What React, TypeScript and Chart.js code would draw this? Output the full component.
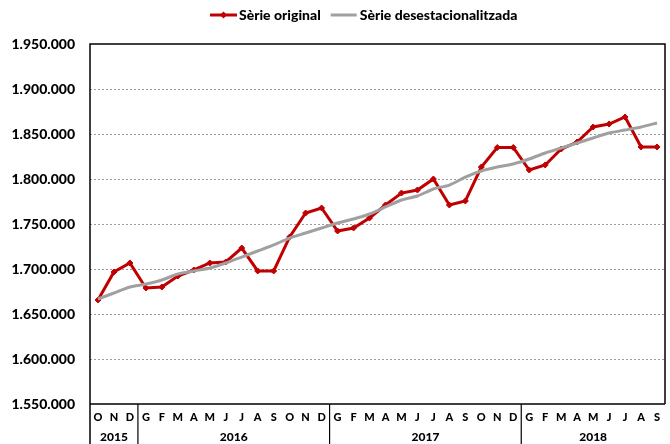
import React, { useEffect, useRef } from "react";
import { Chart, registerables } from "chart.js";

Chart.register(...registerables);

const months = [
  "O", "N", "D",
  "G", "F", "M", "A", "M", "J", "J", "A", "S", "O", "N", "D",
  "G", "F", "M", "A", "M", "J", "J", "A", "S", "O", "N", "D",
  "G", "F", "M", "A", "M", "J", "J", "A", "S",
];
const years = ["2015", "2016", "2017", "2018"];
const monthsPerYear = [3, 12, 12, 9];

const serieOriginal = [
  1665600, 1696700, 1706700,
  1678900, 1680000, 1692200, 1698900, 1706700, 1707800, 1723300, 1697800, 1697800, 1735600, 1762200, 1767800,
  1742200, 1745600, 1756700, 1771100, 1784400, 1787800, 1800000, 1771100, 1775600, 1813300, 1835000, 1835000,
  1810000, 1815600, 1833300, 1841100, 1857800, 1861100, 1868900, 1835600, 1835600,
];
const serieDesestacionalitzada = [
  1666700, 1673300, 1680000,
  1683300, 1687800, 1694400, 1697800, 1701100, 1706700, 1713300, 1720000, 1726700, 1734400, 1740000, 1745600,
  1751100, 1755600, 1761100, 1768900, 1776700, 1781100, 1788900, 1793300, 1802200, 1808900, 1813300, 1816700,
  1822200, 1828900, 1834400, 1840000, 1845600, 1851100, 1854400, 1857800, 1862200,
];
const seriesNames = ["Sèrie original", "Sèrie desestacionalitzada"];
const yMin = 1550000;
const yMax = 1950000;
const yStep = 50000;

const RED = "#C00000";
const GRAY = "#A0A0A0";
const FONT = "Lato, 'Open Sans', sans-serif";

const fmt = (v: number) => String(Math.round(v)).replace(/\B(?=(\d{3})+(?!\d))/g, ".");

const framePlugin = {
  id: "frameAndYears",
  afterDraw(chart: any) {
    const { ctx, chartArea } = chart;
    const { left, right, top, bottom } = chartArea;
    const H = chart.height;
    const xs = chart.scales.x;
    ctx.save();
    ctx.strokeStyle = "#000";
    ctx.lineWidth = 1.5;
    ctx.beginPath();
    ctx.moveTo(left, H);
    ctx.lineTo(left, top);
    ctx.lineTo(right, top);
    ctx.lineTo(right, bottom);
    ctx.moveTo(left, bottom);
    ctx.lineTo(right, bottom);
    ctx.stroke();

    let start = 0;
    ctx.fillStyle = "#000";
    ctx.font = `900 12px ${FONT}`;
    ctx.textAlign = "center";
    ctx.textBaseline = "middle";
    const half = (xs.getPixelForValue(1) - xs.getPixelForValue(0)) / 2;
    years.forEach((yr, i) => {
      const n = monthsPerYear[i];
      const end = start + n - 1;
      const x0 = xs.getPixelForValue(start) - half;
      const x1 = xs.getPixelForValue(end) + half;
      if (i > 0) {
        ctx.beginPath();
        ctx.lineWidth = 1.2;
        ctx.moveTo(x0, bottom);
        ctx.lineTo(x0, H);
        ctx.stroke();
      }
      ctx.fillText(yr, (x0 + x1) / 2, bottom + 33);
      start += n;
    });

    ctx.font = `900 14px ${FONT}`;
    ctx.textAlign = "left";
    const ly = 15;
    let x = 210;
    ctx.lineWidth = 3;
    ctx.strokeStyle = RED;
    ctx.beginPath();
    ctx.moveTo(x, ly);
    ctx.lineTo(x + 27, ly);
    ctx.stroke();
    ctx.fillStyle = RED;
    ctx.beginPath();
    const cx = x + 13.5;
    ctx.moveTo(cx, ly - 3.5);
    ctx.lineTo(cx + 3.5, ly);
    ctx.lineTo(cx, ly + 3.5);
    ctx.lineTo(cx - 3.5, ly);
    ctx.closePath();
    ctx.fill();
    ctx.fillStyle = "#000";
    x += 29;
    ctx.fillText(seriesNames[0], x, ly);
    x += ctx.measureText(seriesNames[0]).width + 10;
    ctx.strokeStyle = GRAY;
    ctx.beginPath();
    ctx.moveTo(x, ly);
    ctx.lineTo(x + 26, ly);
    ctx.stroke();
    x += 29;
    ctx.fillText(seriesNames[1], x, ly);
    ctx.restore();
  },
};

export default function App() {
  const ref = useRef<HTMLCanvasElement | null>(null);
  useEffect(() => {
    document.body.style.margin = "0";
    const canvas = ref.current;
    if (!canvas) return;
    const chart = new Chart(canvas, {
      type: "line",
      data: {
        labels: months,
        datasets: [
          {
            label: seriesNames[0],
            data: serieOriginal,
            borderColor: RED,
            backgroundColor: RED,
            borderWidth: 3,
            pointStyle: "rectRot",
            pointRadius: 3,
            pointBorderWidth: 1,
            tension: 0,
            order: 2,
          },
          {
            label: seriesNames[1],
            data: serieDesestacionalitzada,
            borderColor: GRAY,
            backgroundColor: GRAY,
            borderWidth: 3,
            pointRadius: 0,
            tension: 0.25,
            order: 1,
          },
        ],
      },
      options: {
        responsive: false,
        animation: false,
        layout: { padding: { top: 44, right: 4, left: 0, bottom: 0 } },
        plugins: { legend: { display: false }, tooltip: { enabled: false } },
        scales: {
          x: {
            offset: true,
            grid: { display: false, drawTicks: false },
            border: { display: false },
            ticks: {
              color: "#000",
              font: { family: FONT, weight: "900", size: 11 },
              padding: 7,
              maxRotation: 0,
              autoSkip: false,
            },
            afterFit: (s: any) => {
              s.height = 40;
            },
          },
          y: {
            min: yMin,
            max: yMax,
            border: { display: false, dash: [2, 2] },
            grid: {
              drawTicks: false,
              color: (c: any) =>
                c.tick && (c.tick.value === yMin || c.tick.value === yMax) ? "rgba(0,0,0,0)" : "#9a9a9a",
              lineWidth: 1,
            },
            ticks: {
              stepSize: yStep,
              color: "#000",
              font: { family: FONT, weight: "900", size: 14 },
              padding: 15,
              callback: (v: any) => fmt(Number(v)),
            },
            afterFit: (s: any) => {
              s.width = 90;
            },
          },
        },
      },
      plugins: [framePlugin],
    } as any);
    return () => chart.destroy();
  }, []);
  return (
    <div style={{ width: 670, height: 444, background: "#fff" }}>
      <canvas ref={ref} width={670} height={444} />
    </div>
  );
}
